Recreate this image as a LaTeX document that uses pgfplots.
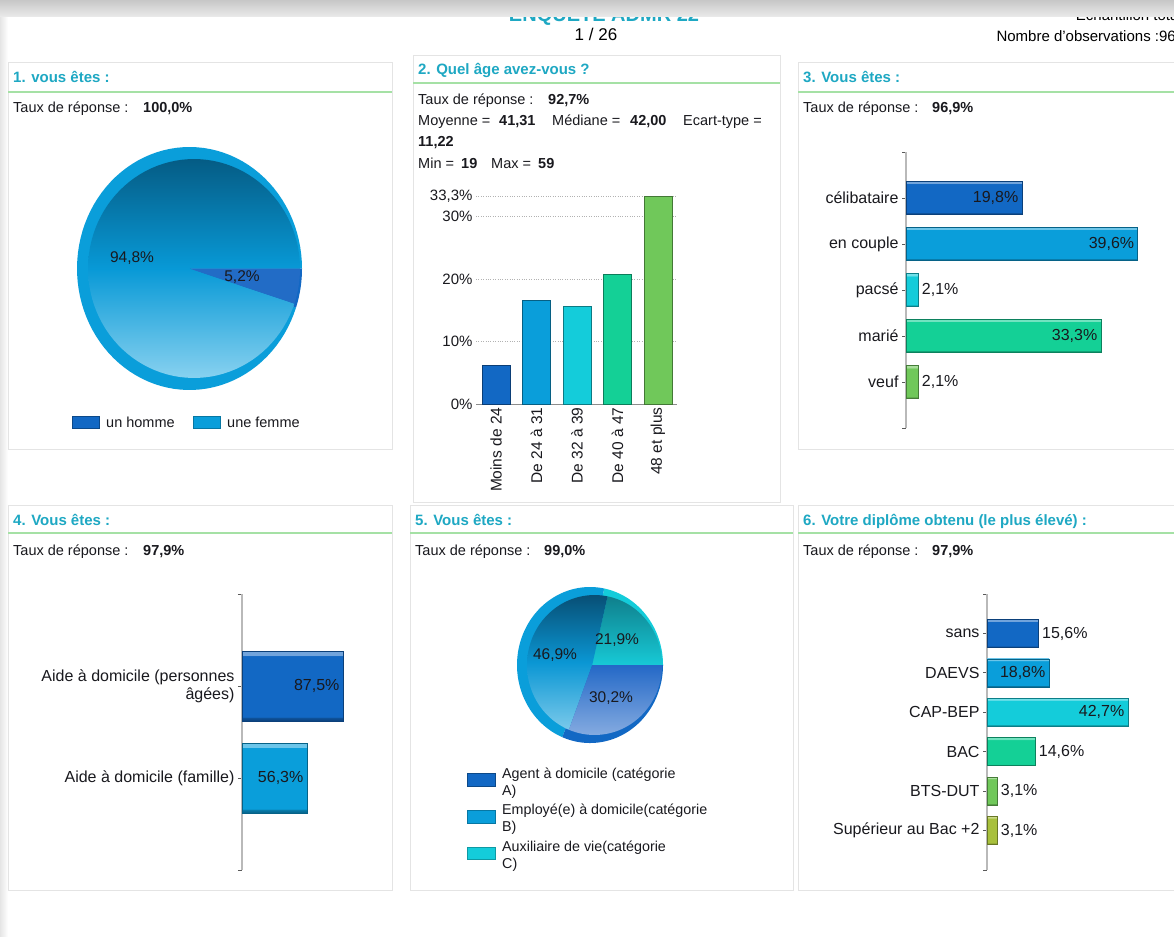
\documentclass[border=0pt]{standalone}
\usepackage{fontspec}
\setmainfont{Liberation Sans}
\usepackage{pgfplots}
\pgfplotsset{compat=1.18}

\definecolor{ttl}{RGB}{30,168,195}
\definecolor{gline}{RGB}{165,225,165}
\definecolor{pbord}{RGB}{228,228,228}
\definecolor{cA}{RGB}{18,104,196}
\definecolor{cB}{RGB}{10,158,218}
\definecolor{cC}{RGB}{20,204,218}
\definecolor{cD}{RGB}{20,208,150}
\definecolor{cE}{RGB}{112,200,90}
\definecolor{cF}{RGB}{168,192,60}
\definecolor{txt}{RGB}{25,25,30}
\definecolor{axg}{RGB}{185,185,185}
% pie shadings (0bp = bottom, 100bp = top; path box = 25bp..75bp)
\pgfdeclareverticalshading{shP1}{100bp}{rgb(0bp)=(0.53,0.82,0.94); rgb(25bp)=(0.53,0.82,0.94); rgb(50bp)=(0.03,0.60,0.84); rgb(75bp)=(0.02,0.36,0.52); rgb(100bp)=(0.02,0.36,0.52)}
\pgfdeclareverticalshading{shB}{100bp}{rgb(0bp)=(0.48,0.79,0.92); rgb(25bp)=(0.48,0.79,0.92); rgb(50bp)=(0.04,0.59,0.83); rgb(75bp)=(0.03,0.31,0.46); rgb(100bp)=(0.03,0.31,0.46)}
\pgfdeclareverticalshading{shC}{100bp}{rgb(0bp)=(0.09,0.79,0.84); rgb(25bp)=(0.09,0.79,0.84); rgb(75bp)=(0.06,0.50,0.55); rgb(100bp)=(0.06,0.50,0.55)}
\pgfdeclareverticalshading{shA}{100bp}{rgb(0bp)=(0.52,0.67,0.88); rgb(25bp)=(0.52,0.67,0.88); rgb(75bp)=(0.14,0.41,0.78); rgb(100bp)=(0.14,0.41,0.78)}
% bevelled bar shadings
\newcommand\barshade[2]{\pgfdeclareverticalshading{#1}{100bp}{color(0bp)=(#2!62!black); color(25bp)=(#2!62!black); color(27.5bp)=(#2!80!black); color(28bp)=(#2); color(71.5bp)=(#2); color(72bp)=(#2!60!white); color(75bp)=(#2!60!white); color(100bp)=(#2!60!white)}}
\barshade{bsA}{cA}
\barshade{bsB}{cB}
\barshade{bsC}{cC}
\barshade{bsD}{cD}
\barshade{bsE}{cE}
\barshade{bsF}{cF}

\newcommand{\fhdr}{\fontsize{14.5}{17}\selectfont}
\newcommand{\flab}{\fontsize{16}{18}\selectfont}

\pgfplotsset{
  hbar/.style={
    scale only axis, xbar, bar shift=0pt,
    axis x line=none, axis y line*=left,
    y axis line style={draw=axg, line width=1.2pt},
    tick align=outside, major tick length=4pt,
    tick style={draw=black!65, line width=0.8pt},
    yticklabel style={font=\flab, text=txt},
    /pgf/number format/use comma,
    /pgf/number format/fixed,
    /pgf/number format/fixed zerofill,
    /pgf/number format/precision=1,
    /pgf/number format/assume math mode=true,
    nodes near coords={\pgfmathprintnumber{\pgfplotspointmeta}\%},
    every node near coord/.append style={font=\flab, text=txt},
    clip=false,
  },
  inlab/.style={every node near coord/.append style={anchor=east}},
  outlab/.style={every node near coord/.append style={anchor=west}},
  bv/.style={shading=bs#1, draw=c#1!62!black, line width=0.7pt},
  pie/.style={scale only axis, hide axis, xmin=-1, xmax=1, ymin=-1, ymax=1,
    clip=false, samples=100, variable=\t},
}

\begin{document}
\begin{tikzpicture}
\begin{scope}[x=1pt,y=-1pt]
\path[use as bounding box, fill=white] (0,0) rectangle (1174,936);
\shade[left color=black!10, right color=white] (0,0) rectangle (8,936);
% top cut texts
\node[anchor=base, font=\fontsize{20}{22}\selectfont\bfseries, text=ttl, inner sep=0] at (604,22) {ENQUETE ADMR 22};
\node[anchor=base east, font=\fontsize{15}{17}\selectfont, inner sep=0] at (1182,21) {Echantillon total};
\shade[top color=black!22, bottom color=black!8] (0,0) rectangle (1174,17);
\node[anchor=base, font=\fontsize{17}{19}\selectfont, inner sep=0] at (596,41) {1 / 26};
\node[anchor=base east, font=\fontsize{15}{17}\selectfont, inner sep=0] at (1176,42) {Nombre d'observations :96};

% panels
\draw[pbord] (8,62) rectangle (392,449);
\draw[pbord] (413,55) rectangle (780,502);
\draw[pbord] (798,62) rectangle (1180,449);
\draw[pbord] (8,505) rectangle (392,890);
\draw[pbord] (410,505) rectangle (793,890);
\draw[pbord] (798,505) rectangle (1180,890);
\draw[gline, line width=1.2pt] (8,92) -- (392,92);
\draw[gline, line width=1.2pt] (413,83) -- (780,83);
\draw[gline, line width=1.2pt] (798,92) -- (1174,92);
\draw[gline, line width=1.2pt] (8,533) -- (392,533);
\draw[gline, line width=1.2pt] (410,533) -- (793,533);
\draw[gline, line width=1.2pt] (798,533) -- (1174,533);

\tikzset{ttlsty/.style={anchor=base west, inner sep=0, text=ttl, font=\fontsize{15}{17}\selectfont\bfseries},
  hdr/.style={anchor=base west, inner sep=0, text=txt, font=\fhdr},
  hdrb/.style={anchor=base west, inner sep=0, text=txt, font=\fhdr\bfseries}}

\node[ttlsty] at (13,82.5) {1. vous êtes :};
\node[hdr] at (13,113) {Taux de réponse :};
\node[hdrb] at (143,113) {100,0\%};

\node[ttlsty] at (418,75) {2. Quel âge avez-vous ?};
\node[hdr] at (418,105) {Taux de réponse :};
\node[hdrb] at (548,105) {92,7\%};
\node[hdr] at (418,126) {Moyenne =};
\node[hdrb] at (499,126) {41,31};
\node[hdr] at (552,126) {Médiane =};
\node[hdrb] at (630,126) {42,00};
\node[hdr] at (683,126) {Ecart-type =};
\node[hdrb] at (418,146.5) {11,22};
\node[hdr] at (418,168) {Min =};
\node[hdrb] at (461,168) {19};
\node[hdr] at (491,168) {Max =};
\node[hdrb] at (538,168) {59};

\node[ttlsty] at (803,82.5) {3. Vous êtes :};
\node[hdr] at (803,113) {Taux de réponse :};
\node[hdrb] at (932,113) {96,9\%};

\node[ttlsty] at (13,525) {4. Vous êtes :};
\node[hdr] at (13,555) {Taux de réponse :};
\node[hdrb] at (143,555) {97,9\%};

\node[ttlsty] at (415,525) {5. Vous êtes :};
\node[hdr] at (415,555) {Taux de réponse :};
\node[hdrb] at (544,555) {99,0\%};

\node[ttlsty] at (803,525) {6. Votre diplôme obtenu (le plus élevé) :};
\node[hdr] at (803,555) {Taux de réponse :};
\node[hdrb] at (932,555) {97,9\%};
\end{scope}

% ---------- Chart 1 : pie ----------
\begin{axis}[pie, at={(189.5pt,-268.5pt)}, anchor=center, width=225pt, height=243pt]
\addplot[draw=none, fill=cB, domain=0:341.28] ({cos(\t)},{sin(\t)}) -- (axis cs:0,0) -- cycle;
\addplot[draw=none, fill=cA, domain=-18.72:0] ({cos(\t)},{sin(\t)}) -- (axis cs:0,0) -- cycle;
\addplot[draw=none, shading=shP1, domain=0:341.28] ({0.04+0.942*cos(\t)},{0.901*sin(\t)}) -- (axis cs:0,0) -- cycle;
\addplot[draw=none, fill={rgb,255:red,34;green,108;blue,198}, domain=-18.72:0] ({0.04+0.942*cos(\t)},{0.901*sin(\t)}) -- (axis cs:0,0) -- cycle;
\end{axis}

% ---------- Chart 2 : age bars ----------
\begin{axis}[at={(476pt,-404pt)}, anchor=south west, scale only axis,
  width=201pt, height=208pt,
  xmin=-0.494, xmax=4.47, ymin=0, ymax=33.33,
  ybar, bar width=28pt, bar shift=0pt,
  axis x line*=bottom, axis y line*=left,
  x axis line style={draw=black!45, line width=1pt},
  y axis line style={draw=none},
  xtick={0,1,2,3,4},
  xticklabels={Moins de 24, De 24 à 31, De 32 à 39, De 40 à 47, 48 et plus},
  xticklabel style={rotate=90, anchor=east, font=\fontsize{15.5}{17}\selectfont, text=txt},
  ytick={0,10,20,30,33.33},
  yticklabels={0\%,10\%,20\%,30\%,{33,3\%}},
  yticklabel style={font=\fontsize{15}{17}\selectfont, text=txt},
  major tick length=0pt,
  ymajorgrids, grid style={dotted, draw=black!30, line width=0.8pt},
  clip=false]
\addplot[fill=cA, draw=cA!60!black] coordinates {(0,6.25)};
\addplot[fill=cB, draw=cB!60!black] coordinates {(1,16.67)};
\addplot[fill=cC, draw=cC!60!black] coordinates {(2,15.63)};
\addplot[fill=cD, draw=cD!60!black] coordinates {(3,20.83)};
\addplot[fill=cE, draw=cE!60!black] coordinates {(4,33.33)};
\end{axis}

% ---------- Chart 3 ----------
\begin{axis}[hbar, at={(906pt,-428pt)}, anchor=south west, width=240pt, height=276pt,
  xmin=0, xmax=41, ymin=0, ymax=6, bar width=33pt,
  ytick={0,...,6}, yticklabels={,veuf,marié,pacsé,en couple,célibataire,}]
\addplot[bv=A, inlab] coordinates {(19.8,5)};
\addplot[bv=B, inlab] coordinates {(39.6,4)};
\addplot[bv=C, outlab] coordinates {(2.1,3)};
\addplot[bv=D, inlab] coordinates {(33.3,2)};
\addplot[bv=E, outlab] coordinates {(2.1,1)};
\end{axis}

% ---------- Chart 4 ----------
\begin{axis}[hbar, at={(242pt,-870pt)}, anchor=south west, width=115.5pt, height=276pt,
  xmin=0, xmax=100, ymin=0, ymax=3, bar width=70pt,
  ytick={0,...,3}, yticklabels={,Aide à domicile (famille),{Aide à domicile (personnes\\âgées)},},
  yticklabel style={align=right}]
\addplot[bv=A, inlab] coordinates {(87.5,2)};
\addplot[bv=B, inlab] coordinates {(56.3,1)};
\end{axis}

% ---------- Chart 5 : pie ----------
\begin{axis}[pie, at={(590pt,-665pt)}, anchor=center, width=146pt, height=156pt]
\addplot[draw=none, fill=cC, domain=0:78.84] ({cos(\t)},{sin(\t)}) -- (axis cs:0,0) -- cycle;
\addplot[draw=none, fill=cB, domain=78.84:247.68] ({cos(\t)},{sin(\t)}) -- (axis cs:0,0) -- cycle;
\addplot[draw=none, fill=cA, domain=247.68:360] ({cos(\t)},{sin(\t)}) -- (axis cs:0,0) -- cycle;
\addplot[draw=none, shading=shC, domain=0:78.84] ({0.062+0.925*cos(\t)},{0.897*sin(\t)}) -- (axis cs:0.03,0) -- cycle;
\addplot[draw=none, shading=shB, domain=78.84:247.68] ({0.062+0.925*cos(\t)},{0.897*sin(\t)}) -- (axis cs:0.03,0) -- cycle;
\addplot[draw=none, shading=shA, domain=247.68:360] ({0.062+0.925*cos(\t)},{0.897*sin(\t)}) -- (axis cs:0.03,0) -- cycle;
\end{axis}

% ---------- Chart 6 ----------
\begin{axis}[hbar, at={(987pt,-870pt)}, anchor=south west, width=165pt, height=276pt,
  xmin=0, xmax=50, ymin=0, ymax=7, bar width=28pt,
  ytick={0,...,7}, yticklabels={,Supérieur au Bac +2,BTS-DUT,BAC,CAP-BEP,DAEVS,sans,}]
\addplot[bv=A, outlab] coordinates {(15.6,6)};
\addplot[bv=B, inlab] coordinates {(18.8,5)};
\addplot[bv=C, inlab] coordinates {(42.7,4)};
\addplot[bv=D, outlab] coordinates {(14.6,3)};
\addplot[bv=E, outlab] coordinates {(3.1,2)};
\addplot[bv=F, outlab] coordinates {(3.1,1)};
\end{axis}

\begin{scope}[x=1pt,y=-1pt]
\node[font=\fontsize{15.5}{17}\selectfont, text=txt] at (132,258) {94,8\%};
\node[font=\fontsize{15.5}{17}\selectfont, text=txt] at (242,277) {5,2\%};
\fill[cA] (72,416) rectangle (99,428);
\draw[cA!70!black] (72,416) rectangle (99,428);
\node[anchor=base west, font=\fhdr, inner sep=0, text=txt] at (106,427) {un homme};
\fill[cB] (193,416) rectangle (220,428);
\draw[cB!75!black] (193,416) rectangle (220,428);
\node[anchor=base west, font=\fhdr, inner sep=0, text=txt] at (227,427) {une femme};

\node[font=\fontsize{15.5}{17}\selectfont, text=txt] at (617,640) {21,9\%};
\node[font=\fontsize{15.5}{17}\selectfont, text=txt] at (555,655) {46,9\%};
\node[font=\fontsize{15.5}{17}\selectfont, text=txt] at (611,698) {30,2\%};
\fill[cA] (467,773) rectangle (495,786); \draw[cA!70!black] (467,773) rectangle (495,786);
\fill[cB] (467,810) rectangle (495,823); \draw[cB!75!black] (467,810) rectangle (495,823);
\fill[cC] (467,847) rectangle (495,859); \draw[cC!75!black] (467,847) rectangle (495,859);
\tikzset{lg5/.style={anchor=base west, inner sep=0, text=txt, font=\fontsize{14.3}{16}\selectfont}}
\node[lg5] at (502,778) {Agent à domicile (catégorie};
\node[lg5] at (502,795) {A)};
\node[lg5] at (502,814) {Employé(e) à domicile(catégorie};
\node[lg5] at (502,831) {B)};
\node[lg5] at (502,851) {Auxiliaire de vie(catégorie};
\node[lg5] at (502,868) {C)};
\end{scope}
\end{tikzpicture}
\end{document}
